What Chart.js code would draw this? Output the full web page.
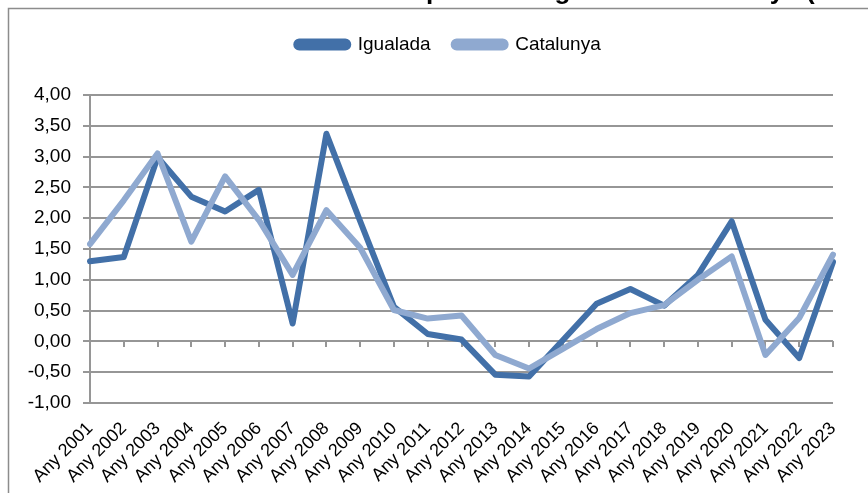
<!DOCTYPE html>
<html><head><meta charset="utf-8">
<script src="https://cdn.jsdelivr.net/npm/chart.js@4"></script>
<style>html,body{margin:0;padding:0;background:#fff}#wrap{width:868px;height:493px}</style>
</head><body><div id="wrap"><canvas id="c" width="868" height="493"></canvas></div>
<script>
const categories = ['Any 2001','Any 2002','Any 2003','Any 2004','Any 2005','Any 2006','Any 2007','Any 2008','Any 2009','Any 2010','Any 2011','Any 2012','Any 2013','Any 2014','Any 2015','Any 2016','Any 2017','Any 2018','Any 2019','Any 2020','Any 2021','Any 2022','Any 2023'];
const igualada  = [1.30, 1.37, 2.99, 2.35, 2.11, 2.46, 0.29, 3.37, 1.95, 0.56, 0.12, 0.03, -0.54, -0.57, 0.02, 0.61, 0.85, 0.58, 1.08, 1.95, 0.35, -0.27, 1.29];
const catalunya = [1.58, 2.29, 3.05, 1.62, 2.68, 1.97, 1.08, 2.13, 1.52, 0.51, 0.37, 0.42, -0.22, -0.44, -0.12, 0.20, 0.46, 0.59, 1.00, 1.38, -0.22, 0.38, 1.41];
const seriesNames = ['Igualada', 'Catalunya'];
const titleText = 'Taxa de creixement de la població. Igualada i Catalunya (en %)';
const titlePrefix = 'Taxa de creixement de la ';

const FONT = "'Liberation Sans', Arial, sans-serif";
const GRID = '#969696';

const framePlugin = {
  id: 'frame',
  beforeDraw(chart) {
    const ctx = chart.ctx;
    ctx.save();
    ctx.fillStyle = '#fff';
    ctx.fillRect(0, 0, chart.width, chart.height);
    ctx.strokeStyle = '#8c8c8c';
    ctx.lineWidth = 1.5;
    ctx.beginPath();
    ctx.moveTo(8.5, chart.height + 5);
    ctx.lineTo(8.5, 8.5);
    ctx.lineTo(chart.width + 5, 8.5);
    ctx.stroke();
    ctx.font = 'bold 26px ' + FONT;
    ctx.fillStyle = '#000';
    ctx.textBaseline = 'alphabetic';
    const x = 426 - ctx.measureText(titlePrefix).width;
    ctx.fillText(titleText, x, -1);
    ctx.restore();
  }
};

const legendSpace = {
  id: 'legendSpace',
  beforeInit(chart) {
    const lg = chart.legend;
    const orig = lg.fit;
    lg.fit = function () { orig.call(this); this.height = 83; };
  },
  afterLayout(chart) {
    const lg = chart.legend;
    lg.left += 22;
    lg.right += 22;
  }
};

new Chart(document.getElementById('c'), {
  type: 'line',
  data: {
    labels: categories,
    datasets: [
      { label: seriesNames[0], data: igualada, borderColor: '#4270a8', backgroundColor: '#4270a8',
        borderWidth: 6, pointRadius: 0, tension: 0, borderJoinStyle: 'round', borderCapStyle: 'round', order: 1 },
      { label: seriesNames[1], data: catalunya, borderColor: '#8fa9d0', backgroundColor: '#8fa9d0',
        borderWidth: 6, pointRadius: 0, tension: 0, borderJoinStyle: 'round', borderCapStyle: 'round', order: 0 }
    ]
  },
  options: {
    responsive: false,
    animation: false,
    devicePixelRatio: 1,
    layout: { padding: { top: 12, left: 20, right: 35, bottom: 0 } },
    plugins: {
      legend: {
        position: 'top',
        labels: {
          font: { family: FONT, size: 19 }, color: '#000',
          boxWidth: 52, boxHeight: 6, padding: 23, useBorderRadius: true, borderRadius: 3,
          sort: (a, b) => a.datasetIndex - b.datasetIndex
        }
      },
      tooltip: { enabled: false },
      title: { display: false }
    },
    scales: {
      x: {
        type: 'category',
        offset: false,
        grid: { display: false, drawTicks: false },
        border: { display: false },
        ticks: { font: { family: FONT, size: 18 }, color: '#000', maxRotation: 45, minRotation: 45, autoSkip: false, padding: 15 },
        afterFit(s) { s.height = 90; }
      },
      x2: {
        axis: 'x',
        type: 'category',
        labels: categories,
        offset: false,
        position: { y: 0 },
        grid: { display: true, drawOnChartArea: false, drawTicks: true, tickLength: 6, color: GRID, lineWidth: 2 },
        border: { display: false },
        ticks: { display: false }
      },
      y: {
        min: -1, max: 4,
        grid: { color: GRID, lineWidth: 2, drawTicks: true, tickLength: 7 },
        border: { display: true, color: GRID, width: 2 },
        ticks: { stepSize: 0.5, font: { family: FONT, size: 19 }, color: '#000', padding: 12,
          callback: v => v.toFixed(2).replace('.', ',') },
        afterFit(s) { s.width = 70; }
      }
    }
  },
  plugins: [framePlugin, legendSpace]
});
</script></body></html>
